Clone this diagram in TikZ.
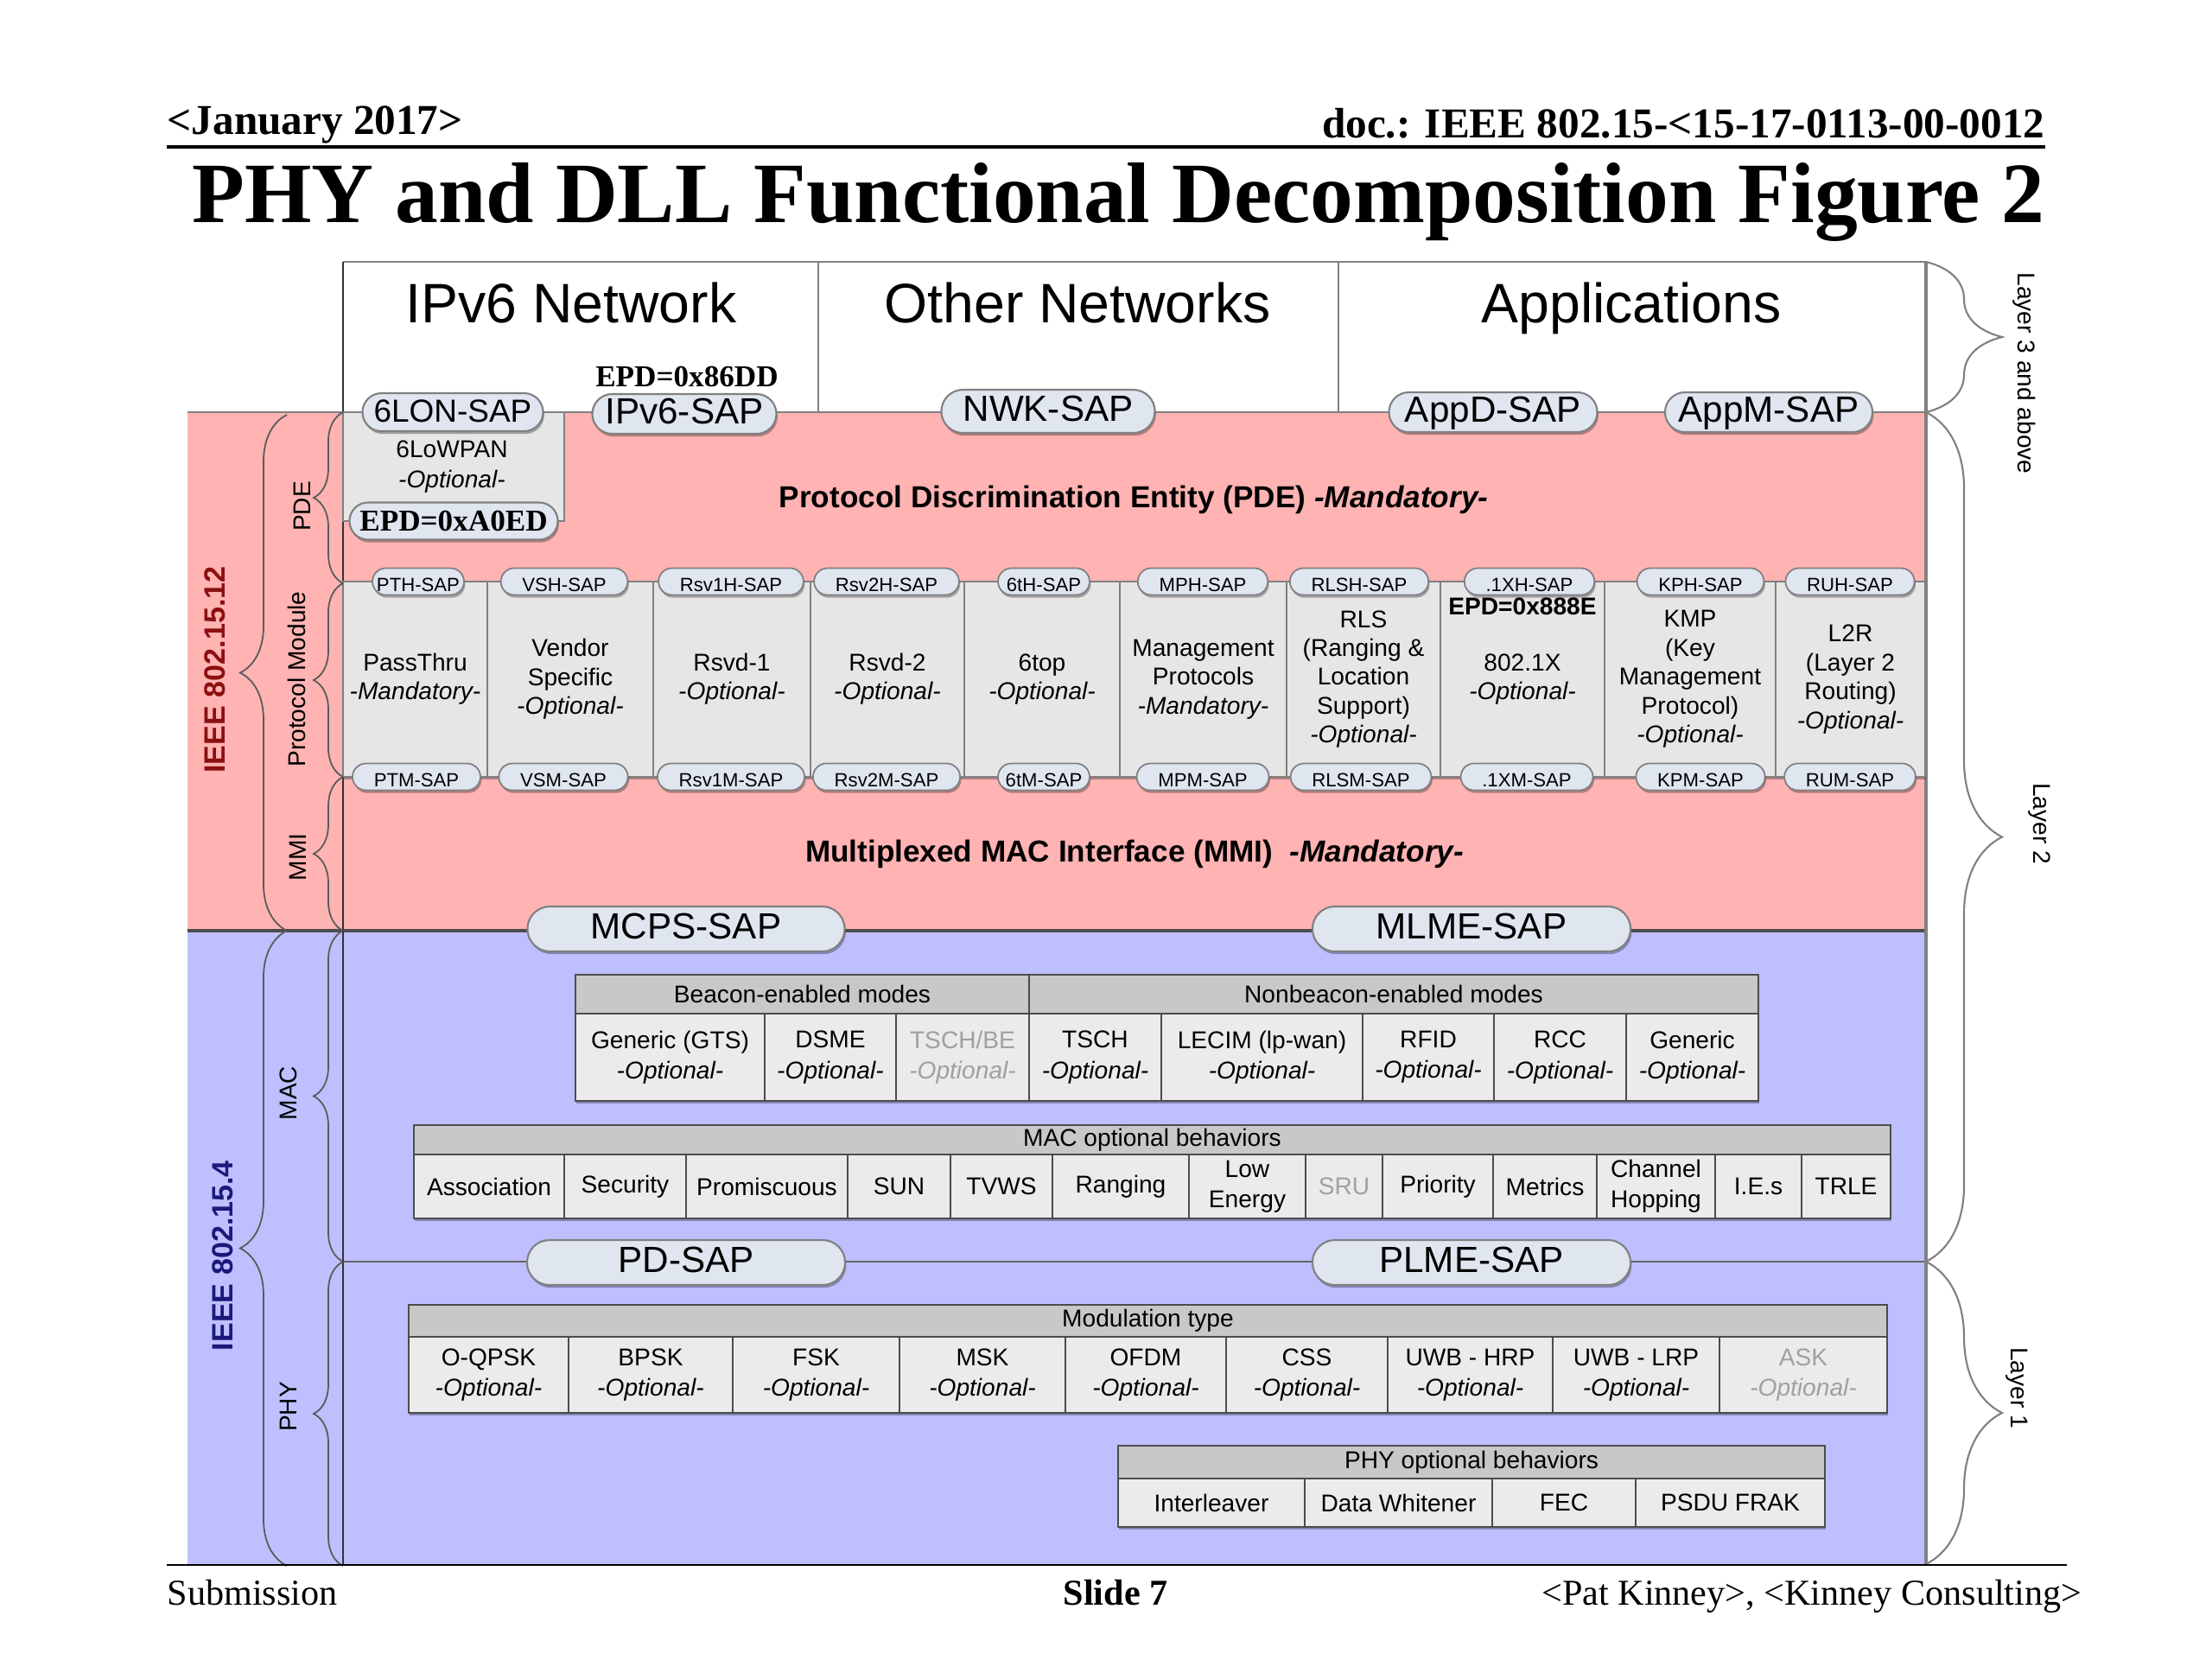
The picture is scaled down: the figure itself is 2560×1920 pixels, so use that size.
\documentclass[tikz,border=0pt]{standalone}
\usepackage{fontspec}
\setmainfont{Liberation Serif}
\setsansfont{Liberation Sans}
\usetikzlibrary{shapes.misc,decorations.pathreplacing,shadows}
\definecolor{pinkbg}{HTML}{FFB3B3}
\definecolor{bluebg}{HTML}{BFBFFF}
\definecolor{boxgray}{HTML}{E6E6E6}
\definecolor{cellgray}{HTML}{EBEBEB}
\definecolor{hdrgray}{HTML}{C8C8C8}
\definecolor{pillfill}{HTML}{DFE6F0}
\definecolor{linegray}{HTML}{808080}
\definecolor{darkred}{HTML}{8B1010}
\definecolor{navyblue}{HTML}{1A1A7A}
\definecolor{fadetext}{HTML}{A0A0A0}
\newcommand\setfs[2]{\fontsize{#1}{#2}\selectfont}
\newcommand\tcell[7][]{\node[cellsty,minimum width={(#5-#3)*0.01cm},minimum height={(#6-#4)*0.01cm},#1] (#2) at ({(#3+#5)/2},{(#4+#6)/2}) {#7};}
\begin{document}
\begin{tikzpicture}[x=0.01cm,y=-0.01cm,
  softshadow/.style={drop shadow={shadow xshift=0.4pt, shadow yshift=-0.9pt, fill=black, opacity=0.3}},
  pill/.style={rounded rectangle, draw=linegray, fill=pillfill, softshadow, inner ysep=0pt, inner xsep=2pt, font=\sffamily\setfs{12}{14}, line width=0.6pt, text height=1.38ex, text depth=0pt},
  spill/.style={rounded rectangle, draw=linegray, fill=pillfill, softshadow, inner xsep=5.7pt, inner ysep=0pt, minimum height=0.31cm, minimum width=1.46cm, font=\sffamily\setfs{6.3}{7}, line width=0.5pt, text height=1.38ex, text depth=0pt},
  cellsty/.style={draw=black!70, fill=cellgray, softshadow, inner sep=0pt, align=center, font=\sffamily\setfs{8}{10}, line width=0.5pt},
  hdrsty/.style={fill=hdrgray},
  pmsty/.style={draw=linegray, fill=boxgray, font=\sffamily\setfs{8}{9.5}},
  fade/.style={text=fadetext},
  lbrace/.style={decorate, decoration={brace, amplitude=#1}, draw=black!65, line width=0.5pt},
  rbrace/.style={decorate, decoration={brace, amplitude=#1}, draw=linegray, line width=0.6pt},
  sublabel/.style={rotate=90, font=\sffamily\setfs{8}{9}},
  laylabel/.style={rotate=-90, font=\sffamily\setfs{8}{9}},
  bigtext/.style={anchor=base, font=\sffamily\setfs{18.3}{20}},
]
\useasboundingbox (0,0) rectangle (2560,1920);
\fill[white] (0,0) rectangle (2560,1920);

% header
\node[anchor=base west, inner sep=0pt, font=\rmfamily\bfseries\setfs{14}{16}] (date) at (193,155) {<January 2017>};
\node[anchor=base east, inner sep=0pt, font=\rmfamily\bfseries\setfs{14}{16}] (docid) at (2367,159) {doc.: IEEE 802.15-<15-17-0113-00-0012};
\draw[line width=1pt] (193,170) -- (2367,170);
\node[anchor=base east, inner sep=0pt, font=\rmfamily\bfseries\setfs{28.3}{32}] (title) at (2367,257) {PHY and DLL Functional Decomposition Figure 2};

% backgrounds
\fill[pinkbg] (217,477) rectangle (2229,1077);
\fill[bluebg] (217,1077) rectangle (2229,1812);

% top box
\draw[linegray, line width=0.6pt] (397,303) -- (2229,303);
\draw[linegray, line width=0.5pt] (947,303) -- (947,477);
\draw[linegray, line width=0.5pt] (1549,303) -- (1549,477);
\node[bigtext] (ipv6net) at (661,373) {IPv6 Network};
\node[bigtext] (othernet) at (1247,373) {Other Networks};
\node[bigtext] (apps) at (1888,373) {Applications};
\node[anchor=base, inner sep=0pt, font=\rmfamily\bfseries\setfs{10}{12}] (epd86) at (795,447) {EPD=0x86DD};

% main lines
\draw[linegray, line width=0.6pt] (217,477) -- (2229,477);
\draw[black!70, line width=0.9pt] (217,1077) -- (2229,1077);
\draw[black!60, line width=0.6pt] (397,1460) -- (2229,1460);
\draw[black!80, line width=0.6pt] (397,303) -- (397,1812);
\draw[linegray, line width=1.1pt] (2229,303) -- (2229,1812);

% 6LoWPAN box
\node[draw=linegray, fill=boxgray, line width=0.5pt, inner sep=0pt, minimum width=2.56cm, minimum height=1.26cm] (lowpanbox) at (525,540) {};
\node[align=center, inner sep=0pt, font=\sffamily\setfs{8}{10}] (lowpan) at (523,540) {6LoWPAN\\\textit{-Optional-}};

% PDE text
\node[anchor=base, inner sep=0pt, font=\sffamily\bfseries\setfs{10}{12}] (pdetext) at (1312,587) {Protocol Discrimination Entity (PDE) \textit{-Mandatory-}};

% protocol module cells
\tcell[pmsty]{pm1}{397}{673}{564}{899}{PassThru\\\textit{-Mandatory-}}
\tcell[pmsty]{pm2}{564}{673}{756}{899}{Vendor\\Specific\\\textit{-Optional-}}
\tcell[pmsty]{pm3}{756}{673}{938}{899}{Rsvd-1\\\textit{-Optional-}}
\tcell[pmsty]{pm4}{938}{673}{1116}{899}{Rsvd-2\\\textit{-Optional-}}
\tcell[pmsty]{pm5}{1116}{673}{1296}{899}{6top\\\textit{-Optional-}}
\tcell[pmsty]{pm6}{1296}{673}{1489}{899}{Management\\Protocols\\\textit{-Mandatory-}}
\tcell[pmsty]{pm7}{1489}{673}{1667}{899}{RLS\\(Ranging \&\\Location\\Support)\\\textit{-Optional-}}
\tcell[pmsty]{pm8}{1667}{673}{1857}{899}{802.1X\\\textit{-Optional-}}
\tcell[pmsty]{pm9}{1857}{673}{2055}{899}{KMP\\(Key\\Management\\Protocol)\\\textit{-Optional-}}
\tcell[pmsty]{pm10}{2055}{673}{2228}{899}{L2R\\(Layer 2\\Routing)\\\textit{-Optional-}}
\node[inner sep=0pt, font=\sffamily\bfseries\setfs{8}{9}] (epd888) at (1762,702) {EPD=0x888E};

% top pills
\node[pill, minimum width=2.23cm, minimum height=0.44cm, font=\sffamily\setfs{10.5}{12}] (sixlon) at (524,477) {6LON-SAP};
\node[pill, minimum width=2.27cm, minimum height=0.46cm] (ipv6sap) at (792,479) {IPv6-SAP};
\node[pill, minimum width=2.61cm, minimum height=0.50cm] (nwksap) at (1213,476) {NWK-SAP};
\node[pill, minimum width=2.55cm, minimum height=0.46cm] (appdsap) at (1728,477) {AppD-SAP};
\node[pill, minimum width=2.54cm, minimum height=0.46cm] (appmsap) at (2047,477) {AppM-SAP};
\node[pill, minimum width=2.55cm, minimum height=0.43cm, font=\rmfamily\bfseries\setfs{10}{12}] (epda0) at (525,603) {EPD=0xA0ED};

% small pills top
\node[spill] (pthsap) at (484,673) {PTH-SAP};
\node[spill] (vshsap) at (653,673) {VSH-SAP};
\node[spill] (rsv1hsap) at (846,673) {Rsv1H-SAP};
\node[spill] (rsv2hsap) at (1026,673) {Rsv2H-SAP};
\node[spill] (sixthsap) at (1208,673) {6tH-SAP};
\node[spill] (mphsap) at (1392,673) {MPH-SAP};
\node[spill] (rlshsap) at (1573,673) {RLSH-SAP};
\node[spill] (xhsap) at (1770,673) {.1XH-SAP};
\node[spill] (kphsap) at (1968,673) {KPH-SAP};
\node[spill] (ruhsap) at (2141,673) {RUH-SAP};
% small pills bottom
\node[spill] (ptmsap) at (482,899) {PTM-SAP};
\node[spill] (vsmsap) at (652,899) {VSM-SAP};
\node[spill] (rsv1msap) at (846,899) {Rsv1M-SAP};
\node[spill] (rsv2msap) at (1026,899) {Rsv2M-SAP};
\node[spill] (sixtmsap) at (1208,899) {6tM-SAP};
\node[spill] (mpmsap) at (1392,899) {MPM-SAP};
\node[spill] (rlsmsap) at (1575,899) {RLSM-SAP};
\node[spill] (xmsap) at (1767,899) {.1XM-SAP};
\node[spill] (kpmsap) at (1968,899) {KPM-SAP};
\node[spill] (rumsap) at (2141,899) {RUM-SAP};

% MMI text
\node[anchor=base, inner sep=0pt, font=\sffamily\bfseries\setfs{10}{12}] (mmitext) at (1313,997) {Multiplexed MAC Interface (MMI)\ \ \textit{-Mandatory-}};

% MAC / PHY SAPs
\node[pill, minimum width=3.81cm, minimum height=0.52cm] (mcps) at (794,1075) {MCPS-SAP};
\node[pill, minimum width=3.82cm, minimum height=0.52cm] (mlme) at (1703,1075) {MLME-SAP};
\node[pill, minimum width=3.82cm, minimum height=0.52cm] (pdsap) at (794,1461) {PD-SAP};
\node[pill, minimum width=3.82cm, minimum height=0.52cm] (plme) at (1703,1461) {PLME-SAP};

% MAC modes table
\tcell[hdrsty]{bhdr}{666}{1128}{1191}{1173}{Beacon-enabled modes}
\tcell[hdrsty]{nbhdr}{1191}{1128}{2035}{1173}{Nonbeacon-enabled modes}
\tcell{mgts}{666}{1173}{885}{1274}{Generic (GTS)\\\textit{-Optional-}}
\tcell{mdsme}{885}{1173}{1037}{1274}{DSME\\\textit{-Optional-}}
\tcell[fade]{mtschbe}{1037}{1173}{1191}{1274}{TSCH/BE\\\textit{-Optional-}}
\tcell{mtsch}{1191}{1173}{1344}{1274}{TSCH\\\textit{-Optional-}}
\tcell{mlecim}{1344}{1173}{1577}{1274}{LECIM (lp-wan)\\\textit{-Optional-}}
\tcell{mrfid}{1577}{1173}{1729}{1274}{RFID\\\textit{-Optional-}}
\tcell{mrcc}{1729}{1173}{1882}{1274}{RCC\\\textit{-Optional-}}
\tcell{mgen}{1882}{1173}{2035}{1274}{Generic\\\textit{-Optional-}}

% MAC optional behaviors
\tcell[hdrsty]{machdr}{479}{1302}{2188}{1336}{MAC optional behaviors}
\tcell{oassoc}{479}{1336}{653}{1410}{Association}
\tcell{osec}{653}{1336}{794}{1410}{Security}
\tcell{oprom}{794}{1336}{981}{1410}{Promiscuous}
\tcell{osun}{981}{1336}{1100}{1410}{SUN}
\tcell{otvws}{1100}{1336}{1218}{1410}{TVWS}
\tcell{orang}{1218}{1336}{1376}{1410}{Ranging}
\tcell{olow}{1376}{1336}{1511}{1410}{Low\\Energy}
\tcell[fade]{osru}{1511}{1336}{1600}{1410}{SRU}
\tcell{oprio}{1600}{1336}{1728}{1410}{Priority}
\tcell{ometr}{1728}{1336}{1848}{1410}{Metrics}
\tcell{ochan}{1848}{1336}{1985}{1410}{Channel\\Hopping}
\tcell{oies}{1985}{1336}{2085}{1410}{I.E.s}
\tcell{otrle}{2085}{1336}{2188}{1410}{TRLE}

% Modulation table
\tcell[hdrsty]{modhdr}{473}{1510}{2184}{1547}{Modulation type}
\tcell{qoqpsk}{473}{1547}{658}{1635}{O-QPSK\\\textit{-Optional-}}
\tcell{qbpsk}{658}{1547}{848}{1635}{BPSK\\\textit{-Optional-}}
\tcell{qfsk}{848}{1547}{1041}{1635}{FSK\\\textit{-Optional-}}
\tcell{qmsk}{1041}{1547}{1233}{1635}{MSK\\\textit{-Optional-}}
\tcell{qofdm}{1233}{1547}{1419}{1635}{OFDM\\\textit{-Optional-}}
\tcell{qcss}{1419}{1547}{1606}{1635}{CSS\\\textit{-Optional-}}
\tcell{qhrp}{1606}{1547}{1797}{1635}{UWB - HRP\\\textit{-Optional-}}
\tcell{qlrp}{1797}{1547}{1990}{1635}{UWB - LRP\\\textit{-Optional-}}
\tcell[fade]{qask}{1990}{1547}{2184}{1635}{ASK\\\textit{-Optional-}}

% PHY optional behaviors
\tcell[hdrsty]{phyhdr}{1294}{1673}{2112}{1711}{PHY optional behaviors}
\tcell{pinter}{1294}{1711}{1510}{1767}{Interleaver}
\tcell{pwhite}{1510}{1711}{1727}{1767}{Data Whitener}
\tcell{pfec}{1727}{1711}{1893}{1767}{FEC}
\tcell{ppsdu}{1893}{1711}{2112}{1767}{PSDU FRAK}

% left braces and labels
\draw[lbrace=0.54cm] (332,1077) -- (332,480);
\draw[lbrace=0.54cm] (332,1812) -- (332,1077);
\draw[lbrace=0.34cm] (397,675) -- (397,477);
\draw[lbrace=0.34cm] (397,899) -- (397,675);
\draw[lbrace=0.34cm] (397,1077) -- (397,899);
\draw[lbrace=0.34cm] (397,1460) -- (397,1077);
\draw[lbrace=0.34cm] (397,1812) -- (397,1460);
\node[rotate=90, font=\sffamily\bfseries\setfs{9.7}{11}, text=darkred] (ieee12) at (249,775) {IEEE 802.15.12};
\node[rotate=90, font=\sffamily\bfseries\setfs{9.7}{11}, text=navyblue] (ieee4) at (258,1453) {IEEE 802.15.4};
\node[sublabel] (pdelab) at (350,586) {PDE};
\node[sublabel] (pmlab) at (343,786) {Protocol Module};
\node[sublabel] (mmilab) at (345,992) {MMI};
\node[sublabel] (maclab) at (334,1265) {MAC};
\node[sublabel] (phylab) at (334,1628) {PHY};

% right braces and labels
\draw[rbrace=0.88cm] (2229,303) -- (2229,477);
\draw[rbrace=0.88cm] (2229,477) -- (2229,1460);
\draw[rbrace=0.88cm] (2229,1460) -- (2229,1810);
\node[laylabel] (lay3) at (2343,432) {Layer 3 and above};
\node[laylabel] (lay2) at (2360,953) {Layer 2};
\node[laylabel] (lay1) at (2334,1606) {Layer 1};

% footer
\draw[black, line width=0.6pt] (193,1811) -- (2392,1811);
\node[anchor=base west, inner sep=0pt, font=\rmfamily\setfs{12}{14}] (subm) at (193,1857) {Submission};
\node[anchor=base, inner sep=0pt, font=\rmfamily\bfseries\setfs{12}{14}] (slide) at (1291,1857) {Slide 7};
\node[anchor=base east, inner sep=0pt, font=\rmfamily\setfs{12}{14}] (author) at (2410,1857) {<Pat Kinney>, <Kinney Consulting>};
\end{tikzpicture}
\end{document}
